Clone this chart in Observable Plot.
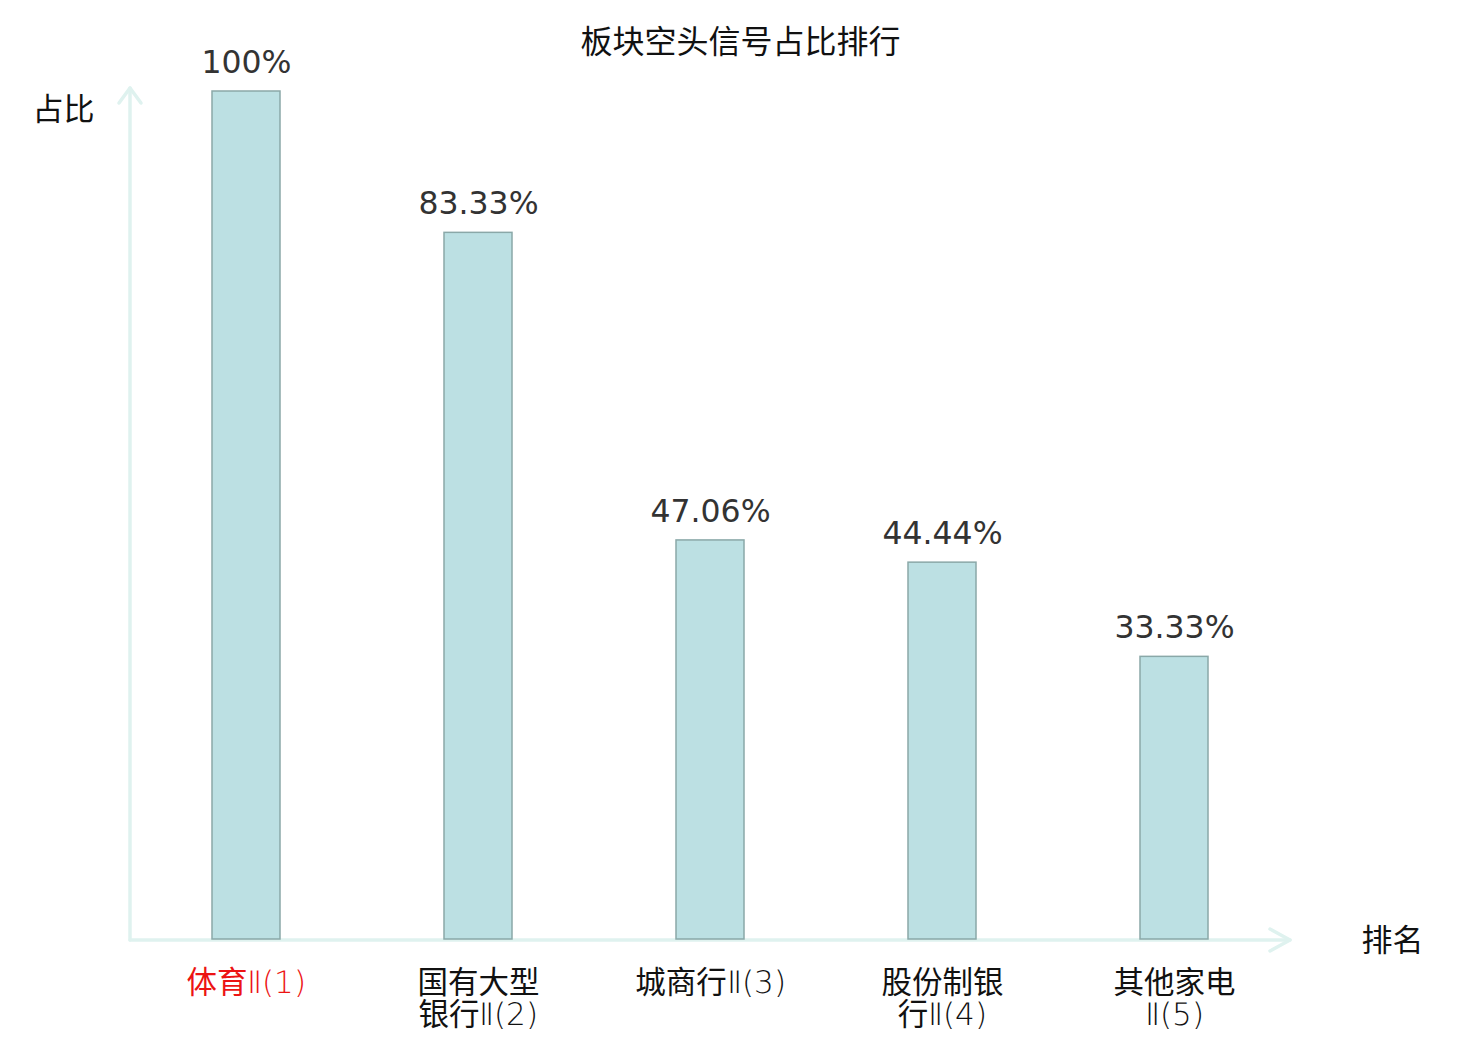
<!DOCTYPE html>
<html>
<head>
<meta charset="utf-8">
<script src="https://cdn.jsdelivr.net/npm/d3@7"></script>
<script src="https://cdn.jsdelivr.net/npm/@observablehq/plot@0.6"></script>
<style>
  @font-face {
    font-family: "TickLatin";
    src: local("DejaVu Sans ExtraLight"), local("DejaVuSans-ExtraLight");
    unicode-range: U+0000-00FF, U+2150-218F;
  }
  html, body { margin: 0; padding: 0; background: #fff; }
  #chart { position: relative; width: 1480px; height: 1040px; }
</style>
</head>
<body>
<div id="chart"></div>
<script>
const title = "板块空头信号占比排行";
const categories = ["体育Ⅱ(1)", "国有大型银行Ⅱ(2)", "城商行Ⅱ(3)", "股份制银行Ⅱ(4)", "其他家电Ⅱ(5)"];
const tickLabels = ["体育Ⅱ(1)", "国有大型\n银行Ⅱ(2)", "城商行Ⅱ(3)", "股份制银\n行Ⅱ(4)", "其他家电\nⅡ(5)"];
const values = [100, 83.33, 47.06, 44.44, 33.33];
const valueLabels = ["100%", "83.33%", "47.06%", "44.44%", "33.33%"];
const yLabel = "占比";
const xLabel = "排名";
const highlight = ["体育Ⅱ(1)"];

const data = categories.map((c, i) => ({cat: c, value: values[i], vlabel: valueLabels[i], tlabel: tickLabels[i]}));

const cjk = "'Noto Sans CJK SC', 'Noto Sans', sans-serif";
const tickFont = "'TickLatin', 'Noto Sans CJK SC', sans-serif";
const num = "'DejaVu Sans', sans-serif";
const axisColor = "#dff2ef";

const plot = Plot.plot({
  width: 1480,
  height: 1040,
  marginTop: 91,
  marginBottom: 101,
  marginLeft: 130,
  marginRight: 190,
  style: {background: "#fff", overflow: "visible"},
  x: {domain: categories, paddingInner: 0.707, paddingOuter: 0.3535, axis: null},
  y: {domain: [0, 100], axis: null},
  marks: [
    Plot.barY(data, {x: "cat", y: "value", fill: "#bce0e3", stroke: "#8aa8a8", strokeWidth: 1.5}),
    Plot.text(data, {x: "cat", y: "value", text: "vlabel", dy: -29, fontSize: 31.5, fill: "#333333", fontFamily: num}),
    Plot.text(data, {x: "cat", text: "tlabel", frameAnchor: "bottom", lineAnchor: "top", dy: 30, fontSize: 30.5, lineHeight: 1.07,
      fontFamily: tickFont, fill: d => highlight.includes(d.cat) ? "#ec1313" : "#111111"}),
    Plot.text([yLabel], {frameAnchor: "top-left", lineAnchor: "middle", textAnchor: "middle", dx: -67, dy: 19, fontSize: 31, fontFamily: cjk, fill: "#111"}),
    Plot.text([xLabel], {frameAnchor: "bottom-right", lineAnchor: "middle", textAnchor: "start", dx: 71, dy: 2, fontSize: 31, fontFamily: cjk, fill: "#111"}),
    Plot.text([title], {frameAnchor: "top", lineAnchor: "middle", dx: 30, dy: -49, fontSize: 32, fontFamily: cjk, fill: "#111"})
  ]
});

document.getElementById("chart").appendChild(plot);

// axis lines with arrowheads, positioned from the plot's own scales
const xr = plot.scale("x").range;
const yr = plot.scale("y").range;
const svg = d3.select(plot);
const g = svg.append("g").attr("fill", "none").attr("stroke", axisColor).attr("stroke-width", 3.5)
  .attr("stroke-linecap", "round").attr("stroke-linejoin", "round");
const x0 = xr[0], x1 = xr[1], y0 = yr[0] + 1, yTop = yr[1] - 3;
g.append("path").attr("d", `M${x0},${y0}V${yTop}`);
g.append("path").attr("d", `M${x0 - 11},${yTop + 15}L${x0},${yTop}L${x0 + 11},${yTop + 15}`);
g.append("path").attr("d", `M${x0},${y0}H${x1}`);
g.append("path").attr("d", `M${x1 - 20},${y0 - 11}L${x1},${y0}L${x1 - 20},${y0 + 11}`);
g.lower();
</script>
</body>
</html>
